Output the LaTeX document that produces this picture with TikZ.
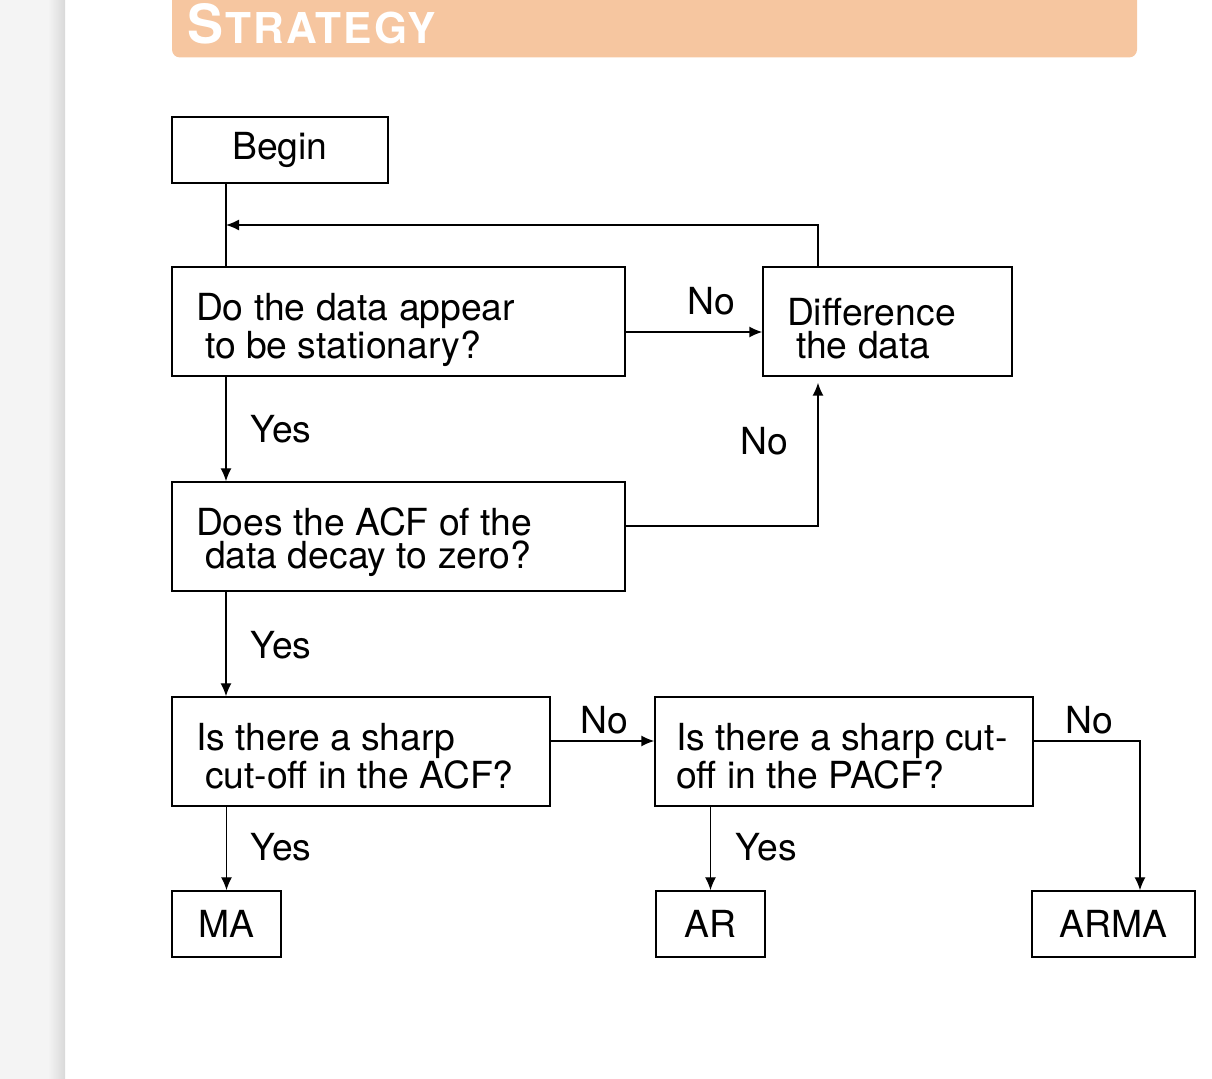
\documentclass[tikz,border=0pt]{standalone}
\usepackage{fontspec}
\setmainfont{TeX Gyre Heros}
\usetikzlibrary{arrows.meta}
\definecolor{banner}{RGB}{246,198,160}
\definecolor{sidegray}{RGB}{244,244,244}

\begin{document}
\begin{tikzpicture}[x=0.5pt, y=-0.5pt, line width=0.7pt, >={Latex[length=6.5pt,width=5.5pt]},
    txt/.style={font=\fontsize{18.65pt}{16.4pt}\selectfont},
    qbox/.style={txt, draw, align=flush left, inner xsep=12pt, inner ysep=0pt, minimum height=54.5pt, text height=19.6pt, text depth=20.4pt},
    ebox/.style={txt, draw, inner sep=0pt, minimum height=33pt},
    lbl/.style={txt, anchor=base west, inner sep=0pt}]
    \useasboundingbox (0,0) rectangle (1212,1079);
    \fill[sidegray] (0,0) rectangle (65,1079);
    \shade[left color=sidegray, right color=black!15] (48,0) rectangle (65,1079);
    \fill[banner, rounded corners=4pt] (172,-20) rectangle (1137,57.5);
    \node[anchor=base west, inner sep=0pt, text=white, font=\bfseries] (title) at (187,44)
        {\fontsize{27pt}{27pt}\selectfont S\kern0.8pt\fontsize{21.25pt}{21pt}\selectfont\addfontfeature{LetterSpace=5}TRATEGY};

    \node[ebox, minimum width=108pt] (begin) at (280,150) {Begin};
    \node[qbox, text width=202.5pt] (stat) at (398.5,321.5) {Do the data appear\\\hspace*{4.5pt}to be stationary?};
    \node[qbox, text width=100.5pt, text height=24.9pt] (diff) at (887.5,321.5) {Difference\\\hspace*{4.5pt}the data};
    \node[qbox, text width=202.5pt] (decay) at (398.5,536.5) {Does the ACF of the\\\hspace*{4.5pt}data decay to zero?};
    \node[qbox, text width=165pt] (acfcut) at (361,751.5) {Is there a sharp\\\hspace*{4.5pt}cut-off in the ACF?};
    \node[qbox, text width=168pt, inner xsep=10.5pt] (pacfcut) at (844,751.5) {Is~there~a~sharp~cut-\\off in the PACF?};
    \node[ebox, minimum width=54.5pt] (ma) at (226.5,924) {MA};
    \node[ebox, minimum width=54.5pt] (ar) at (710.5,924) {AR};
    \node[ebox, minimum width=81.5pt] (arma) at (1113.5,924) {ARMA};

    \coordinate (trunk) at (226,0);
    \coordinate (back) at (818,225);
    \coordinate (nolev) at (0,332);
    \coordinate (up) at (818,526);
    \coordinate (cutlev) at (0,741);
    \coordinate (down) at (1140,741);

    \draw (begin.south -| trunk) -- (stat.north -| trunk);
    \draw[->] (diff.north -| back) |- (back -| trunk);
    \draw[->] (stat.east |- nolev) -- (diff.west |- nolev);
    \draw[->] (stat.south -| trunk) -- (decay.north -| trunk);
    \draw[->, shorten >=3pt] (decay.east |- up) -| (diff.south -| up);
    \draw[->] (decay.south -| trunk) -- (acfcut.north -| trunk);
    \draw[->] (acfcut.east |- cutlev) -- (pacfcut.west |- cutlev);
    \draw[->] (pacfcut.east |- down) -| (arma.north -| down);
    \draw[->] (acfcut.south -| ma) -- (ma.north);
    \draw[->] (pacfcut.south -| ar) -- (ar.north);

    \node[lbl] (no1) at (687,315) {No};
    \node[lbl] (yes1) at (250,443) {Yes};
    \node[lbl] (no2) at (740,455) {No};
    \node[lbl] (yes2) at (250,658.3) {Yes};
    \node[lbl] (no3) at (580,733.3) {No};
    \node[lbl] (no4) at (1065,733.3) {No};
    \node[lbl] (yes3) at (250,861) {Yes};
    \node[lbl] (yes4) at (735,861) {Yes};
\end{tikzpicture}
\end{document}
